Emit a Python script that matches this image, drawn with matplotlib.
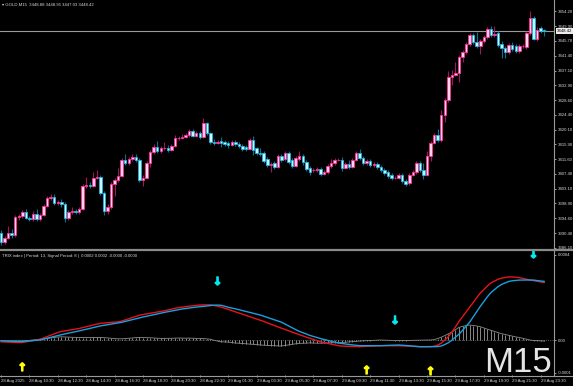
import matplotlib
matplotlib.use("Agg")
import matplotlib.pyplot as plt
from matplotlib.lines import Line2D
from matplotlib import transforms
import matplotlib.patheffects as pe
import numpy as np
import pandas as pd

# ---------------- data ----------------
opens = [3390.4, 3387.8, 3389.0, 3390.4, 3389.8, 3395.0, 3395.3, 3396.4, 3394.7, 3394.4,
         3395.9, 3394.4, 3395.6, 3398.2, 3400.5, 3400.8, 3399.0, 3399.3, 3398.7, 3394.7,
         3396.4, 3396.7, 3396.4, 3397.3, 3403.9, 3404.2, 3403.9, 3406.2, 3406.5, 3401.9,
         3396.7, 3397.9, 3404.5, 3405.6, 3406.8, 3411.4, 3410.5, 3411.7, 3412.3, 3411.4,
         3405.6, 3406.2, 3410.5, 3413.7, 3415.1, 3414.0, 3414.8, 3414.9, 3414.3, 3415.4,
         3417.7, 3417.8, 3418.0, 3418.6, 3419.7, 3418.3, 3419.1, 3418.0, 3422.0, 3419.1,
         3416.6, 3416.3, 3416.8, 3416.6, 3416.3, 3415.7, 3416.6, 3416.0, 3415.4, 3415.1,
         3414.6, 3417.1, 3414.8, 3413.4, 3413.4, 3411.7, 3410.0, 3410.5, 3409.4, 3412.5,
         3411.7, 3413.4, 3411.4, 3409.7, 3411.7, 3412.5, 3410.8, 3409.1, 3408.5, 3408.5,
         3408.8, 3407.4, 3407.9, 3409.7, 3410.5, 3411.4, 3411.4, 3409.1, 3410.3, 3409.4,
         3411.4, 3413.4, 3412.0, 3410.5, 3411.1, 3410.0, 3410.3, 3409.4, 3408.5, 3407.9,
         3407.1, 3406.2, 3406.2, 3407.1, 3405.4, 3404.8, 3407.1, 3407.9, 3410.5, 3408.5,
         3407.1, 3412.5, 3416.3, 3418.6, 3417.1, 3424.3, 3428.6, 3435.2, 3435.8, 3436.4,
         3441.0, 3442.4, 3444.7, 3447.3, 3445.3, 3444.2, 3445.6, 3446.7, 3449.0, 3447.3,
         3447.9, 3444.7, 3443.6, 3442.4, 3444.4, 3444.2, 3442.7, 3444.2, 3443.9, 3447.9,
         3452.2, 3446.2, 3449.3, 3448.88]
highs = [3391.2, 3389.6, 3392.5, 3391.5, 3395.6, 3396.0, 3396.9, 3397.3, 3395.4, 3396.8,
         3397.4, 3396.2, 3398.8, 3401.0, 3401.5, 3401.6, 3399.9, 3400.1, 3399.3, 3397.0,
         3397.9, 3397.2, 3397.8, 3404.4, 3406.5, 3405.0, 3407.8, 3408.4, 3407.0, 3402.5,
         3398.8, 3405.0, 3406.2, 3409.0, 3412.0, 3413.0, 3412.3, 3413.2, 3413.0, 3412.0,
         3407.0, 3411.0, 3414.3, 3416.0, 3416.8, 3415.4, 3416.6, 3415.6, 3416.0, 3418.7,
         3418.4, 3418.9, 3419.2, 3420.3, 3420.2, 3419.6, 3419.6, 3423.4, 3422.4, 3419.5,
         3417.3, 3417.2, 3418.0, 3417.2, 3416.9, 3417.1, 3417.0, 3416.5, 3415.9, 3415.6,
         3417.6, 3418.4, 3415.2, 3414.8, 3413.9, 3412.2, 3410.8, 3411.0, 3413.0, 3413.0,
         3413.9, 3413.9, 3411.9, 3412.5, 3414.0, 3413.0, 3411.4, 3409.6, 3409.1, 3409.4,
         3409.3, 3408.4, 3410.2, 3411.6, 3411.9, 3412.1, 3412.2, 3410.8, 3411.4, 3411.9,
         3414.0, 3414.5, 3412.5, 3411.6, 3411.6, 3410.8, 3410.8, 3410.0, 3409.0, 3408.4,
         3407.6, 3406.8, 3407.6, 3407.6, 3405.9, 3407.6, 3408.4, 3411.0, 3411.0, 3410.5,
         3413.9, 3416.9, 3419.2, 3420.3, 3425.8, 3429.1, 3437.0, 3437.4, 3439.6, 3441.5,
         3442.9, 3445.2, 3447.8, 3447.8, 3448.2, 3446.1, 3447.2, 3449.5, 3449.8, 3449.9,
         3448.4, 3445.5, 3444.1, 3444.9, 3445.4, 3444.7, 3444.7, 3444.8, 3448.4, 3454.2,
         3452.7, 3449.5, 3449.8, 3448.95]
lows = [3387.0, 3387.2, 3388.6, 3389.0, 3389.4, 3394.2, 3394.8, 3394.3, 3393.8, 3394.0,
        3394.0, 3393.9, 3395.2, 3397.8, 3400.0, 3398.6, 3398.4, 3398.0, 3393.6, 3394.2,
        3396.0, 3395.8, 3396.0, 3397.0, 3403.4, 3403.4, 3403.5, 3405.8, 3401.3, 3395.5,
        3395.8, 3397.4, 3401.0, 3405.0, 3406.4, 3410.0, 3410.0, 3411.2, 3410.9, 3405.0,
        3403.8, 3405.8, 3409.5, 3413.2, 3413.5, 3413.4, 3414.2, 3413.8, 3413.9, 3415.0,
        3417.2, 3417.3, 3417.6, 3418.0, 3417.9, 3417.9, 3417.3, 3417.6, 3418.7, 3416.1,
        3415.8, 3415.9, 3415.0, 3415.3, 3414.7, 3415.3, 3415.5, 3414.9, 3414.1, 3414.0,
        3414.2, 3412.8, 3412.9, 3412.6, 3410.6, 3409.5, 3407.8, 3408.9, 3409.0, 3410.9,
        3411.2, 3410.3, 3409.2, 3409.3, 3411.2, 3410.0, 3408.3, 3407.0, 3408.0, 3408.0,
        3406.8, 3407.0, 3407.5, 3409.2, 3410.0, 3411.0, 3408.3, 3408.7, 3408.9, 3409.0,
        3411.0, 3411.5, 3410.0, 3410.0, 3409.5, 3409.5, 3408.9, 3408.0, 3407.2, 3406.3,
        3405.7, 3405.8, 3405.8, 3404.9, 3404.0, 3404.3, 3406.7, 3407.5, 3408.0, 3406.0,
        3406.7, 3411.0, 3415.9, 3416.6, 3416.7, 3422.4, 3428.2, 3433.0, 3435.4, 3433.8,
        3439.6, 3442.0, 3444.3, 3444.8, 3443.7, 3441.8, 3445.1, 3446.2, 3446.8, 3446.8,
        3443.9, 3440.8, 3440.8, 3441.9, 3442.8, 3442.2, 3442.2, 3443.7, 3443.4, 3447.4,
        3445.8, 3445.5, 3447.8, 3447.03]
closes = [3387.8, 3389.0, 3390.4, 3389.8, 3395.0, 3395.3, 3396.4, 3394.7, 3394.4, 3395.9,
          3394.4, 3395.6, 3398.2, 3400.5, 3400.8, 3399.0, 3399.3, 3398.7, 3394.7, 3396.4,
          3396.7, 3396.4, 3397.3, 3403.9, 3404.2, 3403.9, 3406.2, 3406.5, 3401.9, 3396.7,
          3397.9, 3404.5, 3405.6, 3406.8, 3411.4, 3410.5, 3411.7, 3412.3, 3411.4, 3405.6,
          3406.2, 3410.5, 3413.7, 3415.1, 3414.0, 3414.8, 3414.9, 3414.3, 3415.4, 3417.7,
          3417.8, 3418.0, 3418.6, 3419.7, 3418.3, 3419.1, 3418.0, 3422.0, 3419.1, 3416.6,
          3416.3, 3416.6, 3416.3, 3416.0, 3415.7, 3416.6, 3416.0, 3415.4, 3414.6, 3414.6,
          3417.1, 3414.3, 3413.4, 3413.1, 3411.1, 3410.0, 3410.3, 3409.4, 3412.5, 3411.4,
          3413.4, 3410.8, 3409.7, 3412.0, 3412.5, 3410.8, 3408.8, 3407.9, 3408.6, 3408.8,
          3407.4, 3407.9, 3409.7, 3410.5, 3411.4, 3411.5, 3409.1, 3410.3, 3409.4, 3411.4,
          3413.4, 3412.0, 3410.5, 3411.1, 3410.0, 3410.3, 3409.4, 3408.5, 3407.7, 3406.8,
          3406.2, 3406.3, 3407.1, 3405.4, 3404.5, 3407.1, 3407.9, 3410.5, 3408.5, 3407.1,
          3412.5, 3416.3, 3418.6, 3417.1, 3424.3, 3428.6, 3435.2, 3435.8, 3436.4, 3441.0,
          3442.4, 3444.7, 3447.3, 3445.3, 3444.2, 3445.6, 3446.7, 3449.0, 3447.3, 3447.6,
          3444.4, 3443.6, 3442.4, 3444.4, 3443.3, 3442.7, 3444.2, 3444.3, 3447.9, 3452.2,
          3446.2, 3448.8, 3448.5, 3448.42]

# TRIX(13) and its signal(8), in units of 1e-6
trix_u = [-7, -8, -8.4, -9.2, -10, -10.4, -10, -7.6, -5.2, -2.4,
          0.4, 2.8, 8.4, 13.6, 19.2, 24.4, 30, 34, 36.4, 38.8,
          41.2, 43.6, 46, 49.6, 53.2, 56.4, 60, 63.6, 66.8, 68,
          69.2, 70.4, 71.6, 72.8, 75.6, 80.4, 85.2, 89.6, 94.4, 99.2,
          102, 104.4, 106.8, 109.2, 111.2, 114, 116.8, 120, 123.2, 126.4,
          129.6, 131.6, 133.2, 135.2, 136.8, 138.4, 140, 140.4, 140.8, 140.8,
          138, 135.2, 131.6, 127.2, 122.4, 117.6, 112.8, 108.4, 103.6, 98.8,
          94, 89.2, 84.4, 79.6, 74.4, 68.8, 63.2, 58, 52.4, 47.2,
          42, 36.8, 31.6, 26.4, 21.2, 16.4, 11.6, 6.8, 2, -2.8,
          -7.2, -10.4, -13.2, -16.4, -19.6, -22.4, -24.4, -24.8, -25.6, -26,
          -26.4, -26.8, -26, -25.6, -24.8, -24, -23.2, -22.8, -22.8, -22.8,
          -22.8, -22.8, -22.8, -23.2, -24, -24.8, -25.2, -26, -26.8, -26.8,
          -26.8, -26.8, -25.2, -20.4, -12.8, -0.4, 13.6, 31.2, 52.4, 73.6,
          93.2, 112, 131.2, 150, 169.2, 187.6, 201.6, 216, 228.4, 235.6,
          242.8, 247.6, 250, 252.4, 252.4, 250.8, 249.6, 246.4, 243.2, 240,
          237.6, 235.2, 232.4, 230]
signal_u = [-3, -3.6, -4.4, -5.2, -6, -6.4, -6, -4.8, -3.2, -2.4,
            -1.2, 0, 3.6, 7.2, 10.8, 14.4, 18, 21.2, 24.4, 27.2,
            30.4, 33.2, 36.4, 39.6, 43.2, 46.4, 49.6, 53.2, 56.4, 58.8,
            60.8, 63.2, 65.6, 68, 70.8, 74.4, 78, 81.6, 85.2, 88.8,
            92, 94.8, 98, 101.2, 104.4, 107.6, 110.4, 113.2, 116.4, 118.8,
            121.6, 124, 126, 127.6, 129.6, 131.6, 133.2, 134.8, 136.4, 137.6,
            139.2, 139.6, 138.8, 135.2, 130.8, 128, 124.8, 121.2, 117.6, 114,
            110.4, 106.8, 103.2, 100, 95.2, 90.4, 85.6, 80.8, 76, 71.2,
            64, 56.4, 48.8, 41.6, 34.8, 29.6, 24, 18.4, 14.4, 10,
            5.6, 2, -1.6, -5.2, -8.8, -12, -14, -16, -18, -19.6,
            -21.2, -22.8, -22.8, -22.8, -22.8, -22.8, -22.8, -22.8, -22, -21.6,
            -21.2, -20.8, -20, -20.8, -22, -23.2, -24.4, -25.6, -26.8, -26.8,
            -26.8, -26.8, -26.8, -26.4, -24, -18, -11.2, -0.8, 11.2, 23.2,
            38.4, 54.8, 71.2, 92, 113.2, 134.4, 153.6, 172.8, 189.6, 201.6,
            213.2, 222.4, 228, 234, 236.8, 238.4, 239.6, 240, 240, 240,
            239.6, 237.6, 236, 234.4]

# signal arrows (bar index, value in 1e-6)
down_bars = [61, 111, 150]
down_vals = [232, 76, 340]
up_bars = [6, 103, 121]
up_vals = [-112, -124, -128]

price_ticks = [3454.20, 3449.90, 3445.70, 3441.40, 3437.10, 3432.90, 3428.60, 3424.40,
               3420.10, 3415.90, 3411.60, 3407.40, 3403.10, 3398.90, 3394.60, 3390.40, 3386.10]
last_price = 3448.42

# bar times (M15, daily break 00:00-01:00)
times = list(pd.date_range("2025-08-28 08:30", "2025-08-28 23:45", freq="15min")) + \
        list(pd.date_range("2025-08-29 01:00", "2025-08-29 23:45", freq="15min"))

# ---------------- figure ----------------
plt.rcParams["font.family"] = ["Liberation Sans", "DejaVu Sans"]
FS = 3.1
TXT = "#d8d8d8"

W, H = 573, 386
fig = plt.figure(figsize=(W / 100, H / 100), dpi=100, facecolor="black")

def fy(py):
    return 1 - py / H

ax = fig.add_axes([0, fy(249), 554 / W, 249 / H], facecolor="black")
ax2 = fig.add_axes([0, fy(375), 554 / W, (375 - 251) / H], facecolor="black")

n = len(closes)
idx = np.arange(n)
o = np.array(opens); c = np.array(closes); h = np.array(highs); l = np.array(lows)
bull = c >= o

BULL_FACE, BULL_EDGE, BULL_WICK = "#ffd2ea", "#ff2f95", "#a3145e"
BEAR_FACE, BEAR_EDGE, BEAR_WICK = "#c9f6ff", "#1cb4e2", "#0e6f8e"

ax.vlines(idx[bull], l[bull], h[bull], color=BULL_WICK, lw=0.8, zorder=2)
ax.vlines(idx[~bull], l[~bull], h[~bull], color=BEAR_WICK, lw=0.8, zorder=2)
ax.bar(idx[bull], (c - o)[bull], bottom=o[bull], width=0.7,
       color=BULL_FACE, edgecolor=BULL_EDGE, linewidth=0.6, zorder=3)
ax.bar(idx[~bull], (c - o)[~bull], bottom=o[~bull], width=0.7,
       color=BEAR_FACE, edgecolor=BEAR_EDGE, linewidth=0.6, zorder=3)

ax.axhline(last_price, color="#9a9a9a", lw=0.8, zorder=1)

ax.set_xlim(-0.282, 155.77)
ax.set_ylim(3385.81, 3457.38)
for sp in ax.spines.values():
    sp.set_visible(False)
ax.set_xticks([])
ax.yaxis.tick_right()
ax.set_yticks(price_ticks)
ax.set_yticklabels([f"{v:.2f}" for v in price_ticks])
ax.tick_params(axis="y", labelsize=FS, colors=TXT, length=1.5, width=0.5, pad=1.2)

# last price tag
tr = transforms.blended_transform_factory(ax.transAxes, ax.transData)
ax.text(1.006, last_price, f"{last_price:.2f}", transform=tr, fontsize=FS,
        color="black", va="center", ha="left",
        bbox=dict(boxstyle="square,pad=0.25", fc="#ececec", ec="none"), zorder=10, clip_on=False)

# ---------------- TRIX pane ----------------
trix = np.array(trix_u); sig = np.array(signal_u)
hist = trix - sig
ax2.axhline(0, color="#808080", lw=0.6, ls=":", zorder=1)
ax2.vlines(idx, 0, hist, color="#bdbdbd", lw=0.5, zorder=2)
ax2.plot(idx, hist, color="#8c8c8c", lw=0.6, zorder=2)
ax2.plot(idx, trix, color="#e5141f", lw=1.0, zorder=4)
ax2.plot(idx, sig, color="#1aa0df", lw=1.0, zorder=5)

arrow_fx = [pe.withStroke(linewidth=0.8)]
for b, v in zip(down_bars, down_vals):
    t = ax2.text(b, v, "↓", color="#00e8f0", fontsize=8, fontweight="bold",
                 family="DejaVu Sans", ha="center", va="center", zorder=6)
    t.set_path_effects([pe.withStroke(linewidth=0.9, foreground="#00e8f0")])
for b, v in zip(up_bars, up_vals):
    t = ax2.text(b, v, "↑", color="#ffff00", fontsize=8, fontweight="bold",
                 family="DejaVu Sans", ha="center", va="center", zorder=6)
    t.set_path_effects([pe.withStroke(linewidth=0.9, foreground="#ffff00")])

ax2.set_xlim(-0.282, 155.77)
ax2.set_ylim(-140, 356)
for sp in ax2.spines.values():
    sp.set_visible(False)
ax2.yaxis.tick_right()
ax2.set_yticks([341, 0, -132])
ax2.set_yticklabels(["0.0004", "0.00", "-0.0001"])
ax2.tick_params(axis="y", labelsize=FS, colors=TXT, length=1.5, width=0.5, pad=1.2)

tick_bars = [0] + list(range(8, n, 8))
tick_labels = [times[0].strftime("%d %b %Y")] + [times[b].strftime("%d %b %H:%M") for b in tick_bars[1:]]
ax2.set_xticks(tick_bars)
ax2.set_xticklabels(tick_labels, ha="left")
ax2.tick_params(axis="x", labelsize=FS, colors=TXT, length=1.5, width=0.5, pad=1.5)

# frame lines
fig.add_artist(Line2D([554 / W, 554 / W], [fy(375), 1], color="#9a9a9a", lw=0.8))
fig.add_artist(Line2D([0, 1], [fy(250), fy(250)], color="#8a8a8a", lw=1.6))
fig.add_artist(Line2D([0, 1], [fy(375.5), fy(375.5)], color="#9a9a9a", lw=0.8))

# captions
fig.text(2 / W, fy(4.5), "▾ GOLD,M15  3448.88 3448.95 3447.03 3448.42", fontsize=FS,
         color=TXT, va="center", ha="left")
fig.text(2 / W, fy(256), "TRIX index | Period: 13, Signal Period: 8 |  0.0002 0.0002 -0.0000 -0.0000",
         fontsize=FS, color=TXT, va="center", ha="left")
fig.text(552 / W, fy(372), "M15", fontsize=25, family=["Liberation Sans", "DejaVu Sans"],
         color="#e4e4e4", ha="right", va="baseline")

fig.savefig("out.png", dpi=100, facecolor="black")
